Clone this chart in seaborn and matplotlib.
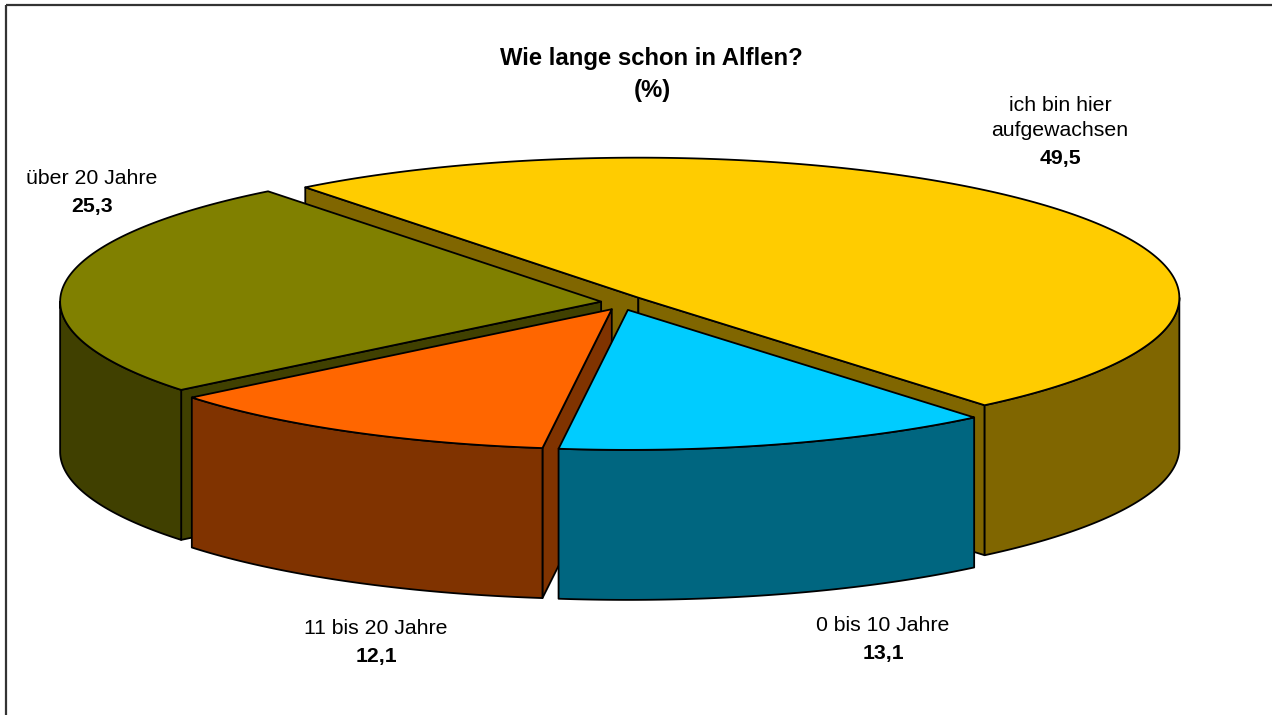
import numpy as np
import matplotlib
matplotlib.use("Agg")
import matplotlib.pyplot as plt
import seaborn as sns
from matplotlib.patches import Polygon

# ---------------- data ----------------
categories = ["ich bin hier\naufgewachsen", "0 bis 10 Jahre", "11 bis 20 Jahre", "über 20 Jahre"]
values = [49.5, 13.1, 12.1, 25.3]
value_labels = ["49,5", "13,1", "12,1", "25,3"]
title_lines = ["Wie lange schon in Alflen?", "(%)"]
top_colors = ["#FFCC00", "#00CCFF", "#FF6600", "#808000"]
side_colors = ["#806600", "#006680", "#803300", "#404000"]

# ---------------- style ----------------
sns.set_theme(style="white")
plt.rcParams['font.family'] = ['Liberation Sans', 'DejaVu Sans']
top_pal = sns.color_palette(top_colors)
side_pal = sns.color_palette(side_colors)

W, H = 1272, 715
fig = plt.figure(figsize=(W / 100, H / 100), dpi=100)
ax = fig.add_axes([0, 0, 1, 1])
ax.set_xlim(0, W)
ax.set_ylim(H, 0)
ax.axis('off')

# pie layout (pixels)
cx, cy = 622.0, 302.5
ra, rb = 541.0, 140.0
depth = 150.0
ex, ey = 21.0, 7.7
start = 128.0
lw = 1.3

def arc(t1, t2, ox, oy, dz=0.0, n=200):
    t = np.radians(np.linspace(t1, t2, n))
    return np.column_stack([cx + ox + ra * np.cos(t), cy + oy - rb * np.sin(t) + dz])

def poly(pts, fc):
    ax.add_patch(Polygon(pts, closed=True, facecolor=fc, edgecolor='black',
                         linewidth=lw, joinstyle='round'))

# slice angles (clockwise from start)
total = sum(values)
slices = []
acc = 0.0
for i, v in enumerate(values):
    hi = start - acc / total * 360.0
    lo = hi - v / total * 360.0
    acc += v
    mid = np.radians((hi + lo) / 2)
    ox, oy = ex * np.cos(mid), -ey * np.sin(mid)
    slices.append(dict(i=i, lo=lo, hi=hi, mid=mid, ox=ox, oy=oy))

# draw back to front
for s in sorted(slices, key=lambda s: -np.sin(s['mid'])):
    i, lo, hi, ox, oy = s['i'], s['lo'], s['hi'], s['ox'], s['oy']
    tip = np.array([cx + ox, cy + oy])
    # radial walls facing the viewer
    for edge, visible in ((hi, np.cos(np.radians(hi)) < 0), (lo, np.cos(np.radians(lo)) > 0)):
        if visible:
            p = arc(edge, edge, ox, oy, n=1)[0]
            poly([tip, p, p + [0, depth], tip + [0, depth]], side_pal[i])
    # outer wall (front half only)
    for k in (-2, -1, 0, 1):
        a1, a2 = max(lo, -180 + 360 * k), min(hi, 360 * k)
        if a2 > a1:
            top = arc(a1, a2, ox, oy)
            bot = arc(a2, a1, ox, oy, dz=depth)
            poly(np.vstack([top, bot]), side_pal[i])
    # top face
    poly(np.vstack([[tip], arc(lo, hi, ox, oy)]), top_pal[i])

# ---------------- texts ----------------
fs_lab = 15.3
label_xy = [(1060, 128), (883, 623), (376, 626), (92, 176)]
for cat, val, (x, y) in zip(categories, value_labels, label_xy):
    lines = cat.split("\n")
    for j, line in enumerate(lines):
        yy = y - 25 * (len(lines) - 1 - j)
        ax.text(x, yy + 8, line, ha='center', va='baseline', fontsize=fs_lab, color='black')
    ax.text(x, y + 28 + 8, val, ha='center', va='baseline', fontsize=fs_lab,
            fontweight='bold', color='black')

ax.text(651, 56 + 8.5, title_lines[0], ha='center', va='baseline', fontsize=17.2,
        fontweight='bold', color='black')
ax.text(652, 88 + 8.5, title_lines[1], ha='center', va='baseline', fontsize=17.2,
        fontweight='bold', color='black')

# chart frame (top and left visible)
ax.plot([6, W], [5, 5], color='#333333', linewidth=1.6, solid_capstyle='butt')
ax.plot([6, 6], [5, H], color='#333333', linewidth=1.6, solid_capstyle='butt')

fig.savefig("out.png", dpi=100, facecolor='white')
